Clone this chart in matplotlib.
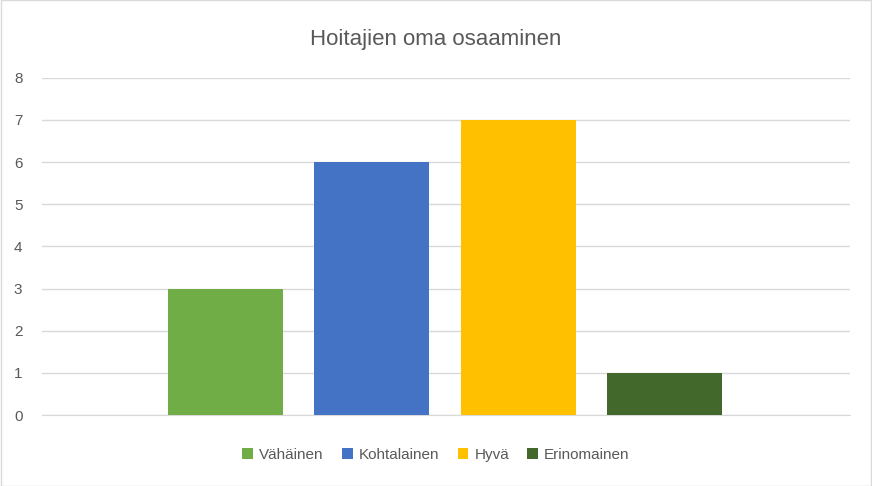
import matplotlib.pyplot as plt
from matplotlib.patches import Rectangle

plt.rcParams["font.family"] = "Liberation Sans"

labels = ["Vähäinen", "Kohtalainen", "Hyvä", "Erinomainen"]
values = [3, 6, 7, 1]
colors = ["#70AD47", "#4472C4", "#FFC000", "#43682B"]
yticks = list(range(0, 9))

fig = plt.figure(figsize=(8.72, 4.86), dpi=100)
ax = fig.add_axes([0.048, 0.146, 0.927, 0.694])

pos = list(range(len(values)))
for p, v, c, lab in zip(pos, values, colors, labels):
    ax.bar(p, v, width=0.786, color=c, label=lab, zorder=3)

ax.set_xlim(-1.254, 4.269)
ax.set_ylim(0, 8)
ax.set_yticks(yticks)
ax.set_xticks([])
ax.grid(axis="y", color="#D9D9D9", linewidth=1, zorder=0)
for s in ["top", "right", "left"]:
    ax.spines[s].set_visible(False)
ax.spines["bottom"].set_color("#D9D9D9")
ax.tick_params(axis="y", length=0, labelsize=11, labelcolor="#595959", pad=14)

fig.text(0.5, 0.918, "Hoitajien oma osaaminen", ha="center", va="center",
         fontsize=16, color="#595959")
fig.legend(loc="center", bbox_to_anchor=(0.5, 0.064), ncol=4, frameon=False,
           fontsize=11, labelcolor="#595959", handlelength=0.7, handleheight=0.7,
           handletextpad=0.4, columnspacing=1.2)

fig.patches.append(Rectangle((0.001, 0.001), 0.998, 0.998, transform=fig.transFigure,
                             fill=False, edgecolor="#D9D9D9", linewidth=1))

fig.savefig("out.png", dpi=100)
